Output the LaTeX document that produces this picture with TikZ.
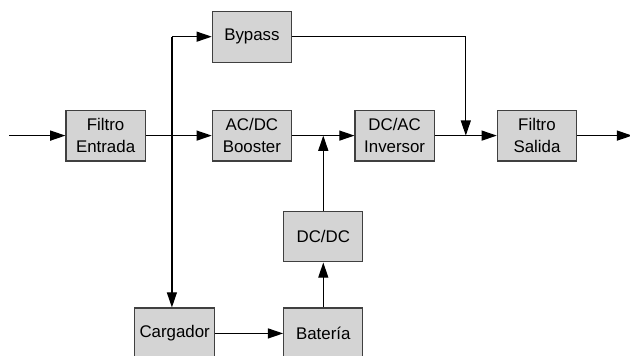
\documentclass[tikz,border=0pt]{standalone}
\usepackage{fontspec}
\setmainfont{Liberation Sans}
\usetikzlibrary{positioning, arrows.meta, calc}

\begin{document}
\begin{tikzpicture}[
        node distance=1.6cm and 1.6cm,
        box/.style={rectangle, draw=black!75, fill=black!17, line width=0.8pt, minimum width=1.98cm, minimum height=1.27cm, align=center, font=\fontsize{12}{15.5}\selectfont},
        arrow/.style={-{Triangle[length=3.8mm, width=2.5mm]}, line width=0.9pt, draw=black}
    ]
    \useasboundingbox (0,0) rectangle (15.75,-8.9);

    % Nodes
    \node[box] at (2.64,-3.39) (filtroent) {Filtro\\Entrada};
    \node[box, right=1.65cm of filtroent] (acdc) {AC/DC\\Booster};
    \node[box, right=1.56cm of acdc] (dcac) {DC/AC\\Inversor};
    \node[box, right=1.55cm of dcac] (filtrosal) {Filtro\\Salida};
    \node[box, above=1.175cm of acdc] (bypass) {Bypass};

    % Helper points on the main line
    \coordinate (mid) at ($(acdc.south)!0.5!(dcac.south)$);
    \coordinate (join) at ($(dcac.east)!0.5!(filtrosal.west)$);

    \node[box, below=1.225cm of mid] (dcdc) {DC/DC};
    \node[box, below=1.125cm of dcdc] (bateria) {Batería};
    \node[box, left=1.7cm of bateria] (cargador) {Cargador};

    % Inputs/Outputs
    \coordinate[left=1.4cm of filtroent] (in);
    \coordinate[right=1.375cm of filtrosal] (out);
    \coordinate (bustop) at ([xshift=-0.07cm]cargador.north |- bypass.west);
    \coordinate (busend) at ([xshift=-0.07cm]cargador.north);
    \coordinate (dcin) at (dcdc.north |- acdc.east);

    % Main path
    \draw[arrow] (in) -- (filtroent);
    \draw[arrow] (filtroent) -- (acdc);
    \draw[arrow] (acdc) -- (dcac);
    \draw[arrow] (dcac) -- (filtrosal);
    \draw[arrow] (filtrosal) -- (out);

    % Bypass and charger branch
    \draw[arrow] (bustop) -- (bypass);
    \draw[arrow] (bustop) -- (busend);
    \draw[arrow] (bypass.east) -| (join);

    % Battery path
    \draw[arrow] (cargador) -- (bateria);
    \draw[arrow] (bateria) -- (dcdc);
    \draw[arrow] (dcdc) -- (dcin);

\end{tikzpicture}
\end{document}
